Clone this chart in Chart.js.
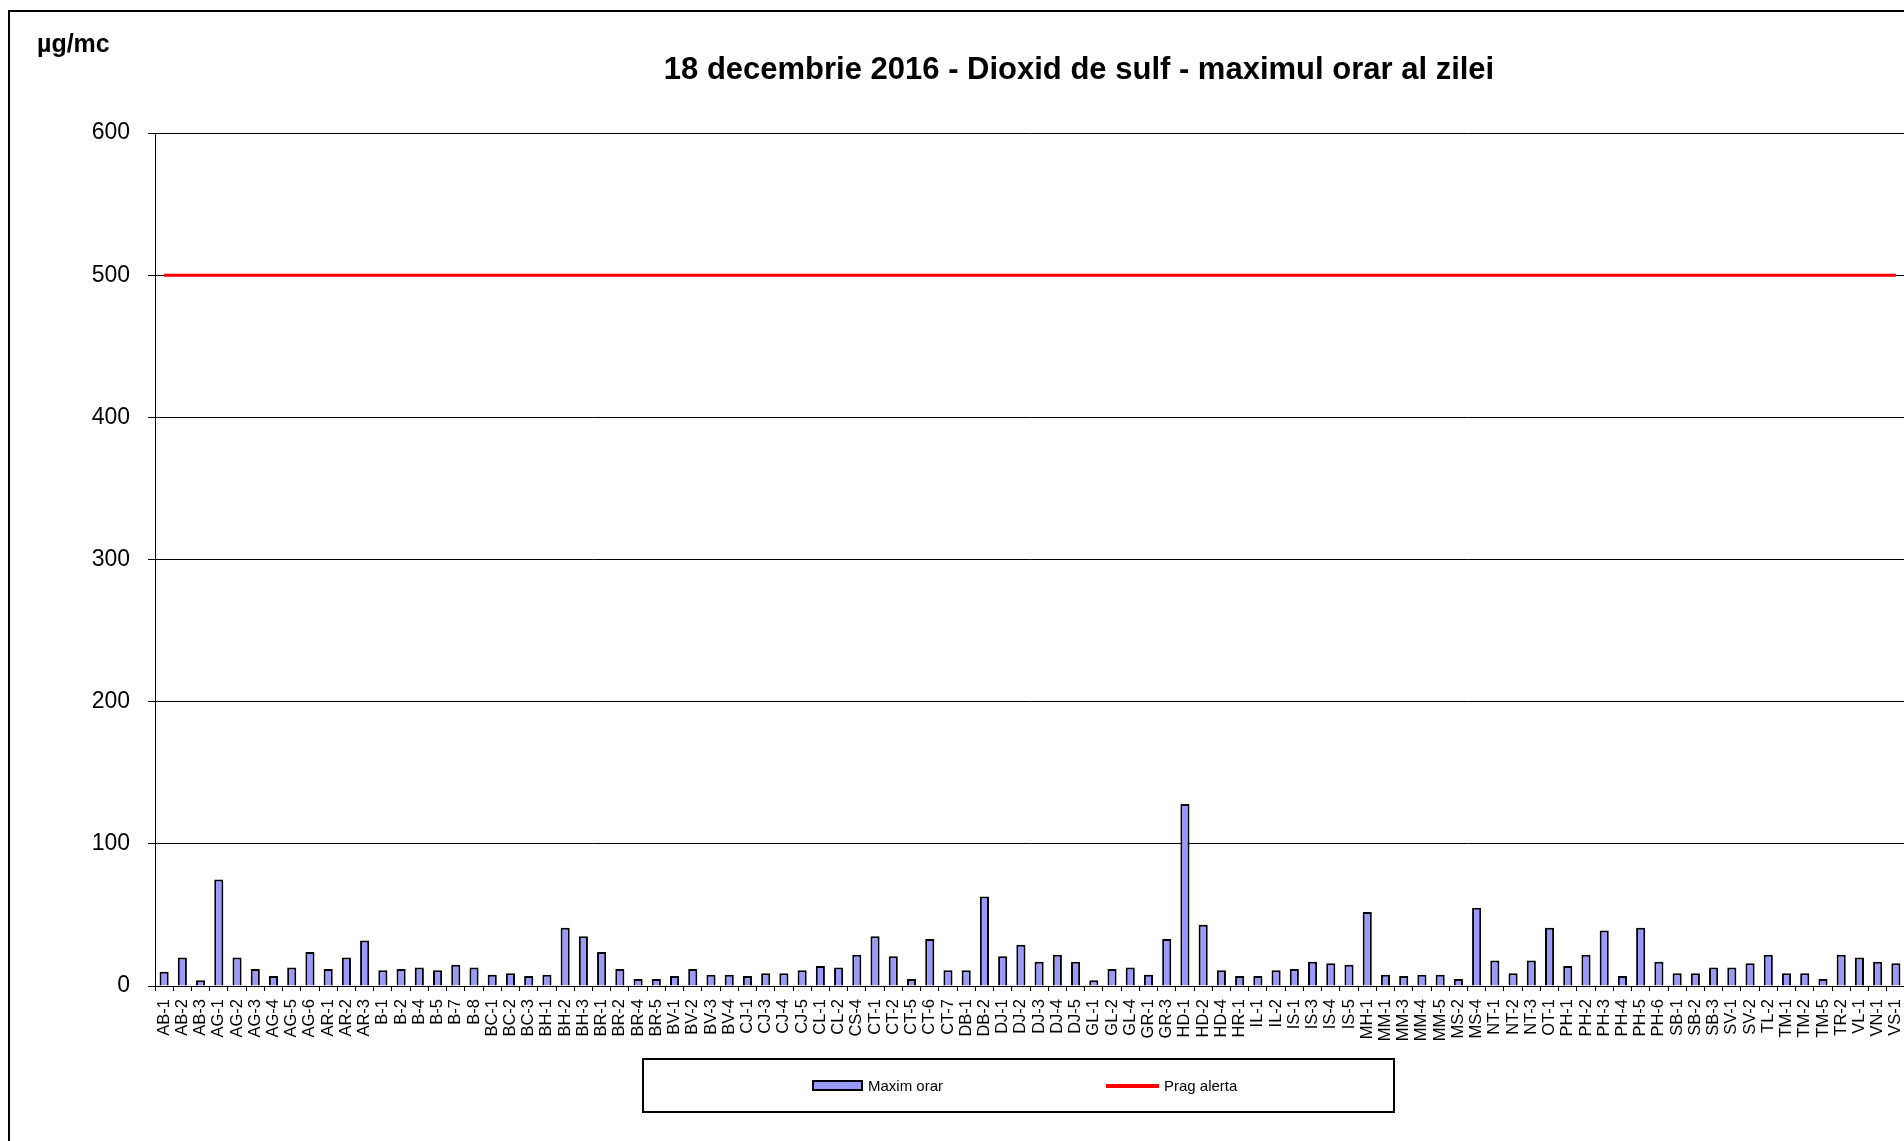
<!DOCTYPE html>
<html>
<head>
<meta charset="utf-8">
<script src="https://cdn.jsdelivr.net/npm/chart.js@4.4.1/dist/chart.umd.min.js"></script>
<style>
  html, body { margin: 0; padding: 0; background: #fff; overflow: hidden; }
  body { width: 1904px; height: 1141px; position: relative; font-family: "Liberation Sans", Arial, sans-serif; }
  #chart { position: absolute; left: 0; top: 0; }
  .frame { position: absolute; left: 8px; top: 10px; width: 2000px; height: 1200px; border: 2px solid #000; pointer-events: none; }
  .title { position: absolute; left: 0; width: 2158px; top: 53px; text-align: center; font-weight: bold; font-size: 31px; line-height: 31px; color: #000; }
  .unit { position: absolute; left: 37px; top: 31px; font-weight: bold; font-size: 25px; line-height: 25px; color: #000; }
  .legend { position: absolute; left: 642px; top: 1058px; width: 749px; height: 51px; border: 2px solid #000; background: #fff; }
  .lg-item { position: absolute; top: 0; height: 51px; display: flex; align-items: center; font-size: 15px; color: #000; }
  .lg-bar { width: 47px; height: 7px; background: #9999FF; border: 2px solid #000; margin-right: 5px; }
  .lg-line { width: 53px; height: 4px; background: #FF0000; margin-right: 5px; }
</style>
</head>
<body>
<canvas id="chart" width="1930" height="1141"></canvas>
<div class="frame"></div>
<div class="unit">µg/mc</div>
<div class="title">18 decembrie 2016 - Dioxid de sulf - maximul orar al zilei</div>
<div class="legend" id="legend"></div>

<script>
// ── Data ──────────────────────────────────────────────────
const statii = [
  'AB-1','AB-2','AB-3','AG-1','AG-2','AG-3','AG-4','AG-5','AG-6','AR-1','AR-2','AR-3',
  'B-1','B-2','B-4','B-5','B-7','B-8','BC-1','BC-2','BC-3','BH-1','BH-2','BH-3',
  'BR-1','BR-2','BR-4','BR-5','BV-1','BV-2','BV-3','BV-4','CJ-1','CJ-3','CJ-4','CJ-5',
  'CL-1','CL-2','CS-4','CT-1','CT-2','CT-5','CT-6','CT-7','DB-1','DB-2','DJ-1','DJ-2',
  'DJ-3','DJ-4','DJ-5','GL-1','GL-2','GL-4','GR-1','GR-3','HD-1','HD-2','HD-4','HR-1',
  'IL-1','IL-2','IS-1','IS-3','IS-4','IS-5','MH-1','MM-1','MM-3','MM-4','MM-5','MS-2',
  'MS-4','NT-1','NT-2','NT-3','OT-1','PH-1','PH-2','PH-3','PH-4','PH-5','PH-6','SB-1',
  'SB-2','SB-3','SV-1','SV-2','TL-2','TM-1','TM-2','TM-5','TR-2','VL-1','VN-1','VS-1'
];

const maximOrar = [
  10, 20,  4, 75, 20, 12,  7, 13, 24, 12, 20, 32,
  11, 12, 13, 11, 15, 13,  8,  9,  7,  8, 41, 35,
  24, 12,  5,  5,  7, 12,  8,  8,  7,  9,  9, 11,
  14, 13, 22, 35, 21,  5, 33, 11, 11, 63, 21, 29,
  17, 22, 17,  4, 12, 13,  8, 33, 128, 43, 11,  7,
   7, 11, 12, 17, 16, 15, 52,  8,  7,  8,  8,  5,
  55, 18,  9, 18, 41, 14, 22, 39,  7, 41, 17,  9,
   9, 13, 13, 16, 22,  9,  9,  5, 22, 20, 17, 16
];

const PRAG_ALERTA = 500;
const pragAlerta = statii.map(() => PRAG_ALERTA);

const yTicks = [0, 100, 200, 300, 400, 500, 600];

// ── Chart ─────────────────────────────────────────────────
const FONT = '"Liberation Sans", Arial, sans-serif';

const chart = new Chart(document.getElementById('chart'), {
  type: 'bar',
  data: {
    labels: statii,
    datasets: [
      {
        type: 'bar',
        label: 'Maxim orar',
        data: maximOrar,
        backgroundColor: '#9999FF',
        borderColor: '#000',
        borderWidth: 2,
        categoryPercentage: 1,
        barPercentage: 0.5,
        order: 2
      },
      {
        type: 'line',
        label: 'Prag alerta',
        data: pragAlerta,
        borderColor: '#FF0000',
        borderWidth: 3,
        pointRadius: 0,
        fill: false,
        order: 1
      }
    ]
  },
  options: {
    responsive: false,
    animation: false,
    layout: { padding: { left: 0, right: 25, top: 133, bottom: 0 } },
    plugins: { legend: { display: false }, title: { display: false }, tooltip: { enabled: false } },
    scales: {
      x: {
        offset: true,
        border: { color: '#000', width: 1 },
        grid: { drawOnChartArea: false, drawTicks: true, tickLength: 5, color: '#000', offset: true },
        ticks: {
          autoSkip: false, maxRotation: 90, minRotation: 90, padding: 8,
          color: '#000', font: { family: FONT, size: 16.5 }
        },
        afterFit: s => { s.height = 155; }
      },
      y: {
        min: yTicks[0],
        max: yTicks[yTicks.length - 1],
        border: { color: '#000', width: 1 },
        grid: { color: '#000', lineWidth: 1, tickLength: 7 },
        afterBuildTicks: s => { s.ticks = yTicks.map(v => ({ value: v })); },
        ticks: { padding: 18, color: '#000', font: { family: FONT, size: 23 } },
        afterFit: s => { s.width = 155; }
      }
    }
  }
});

// ── Legend (built from datasets) ──────────────────────────
const legend = document.getElementById('legend');
const legendX = [168, 462];
chart.data.datasets.forEach((ds, i) => {
  const item = document.createElement('div');
  item.className = 'lg-item';
  item.style.left = legendX[i] + 'px';
  const mark = document.createElement('span');
  mark.className = ds.type === 'line' ? 'lg-line' : 'lg-bar';
  item.appendChild(mark);
  item.appendChild(document.createTextNode(ds.label));
  legend.appendChild(item);
});
</script>
</body>
</html>
